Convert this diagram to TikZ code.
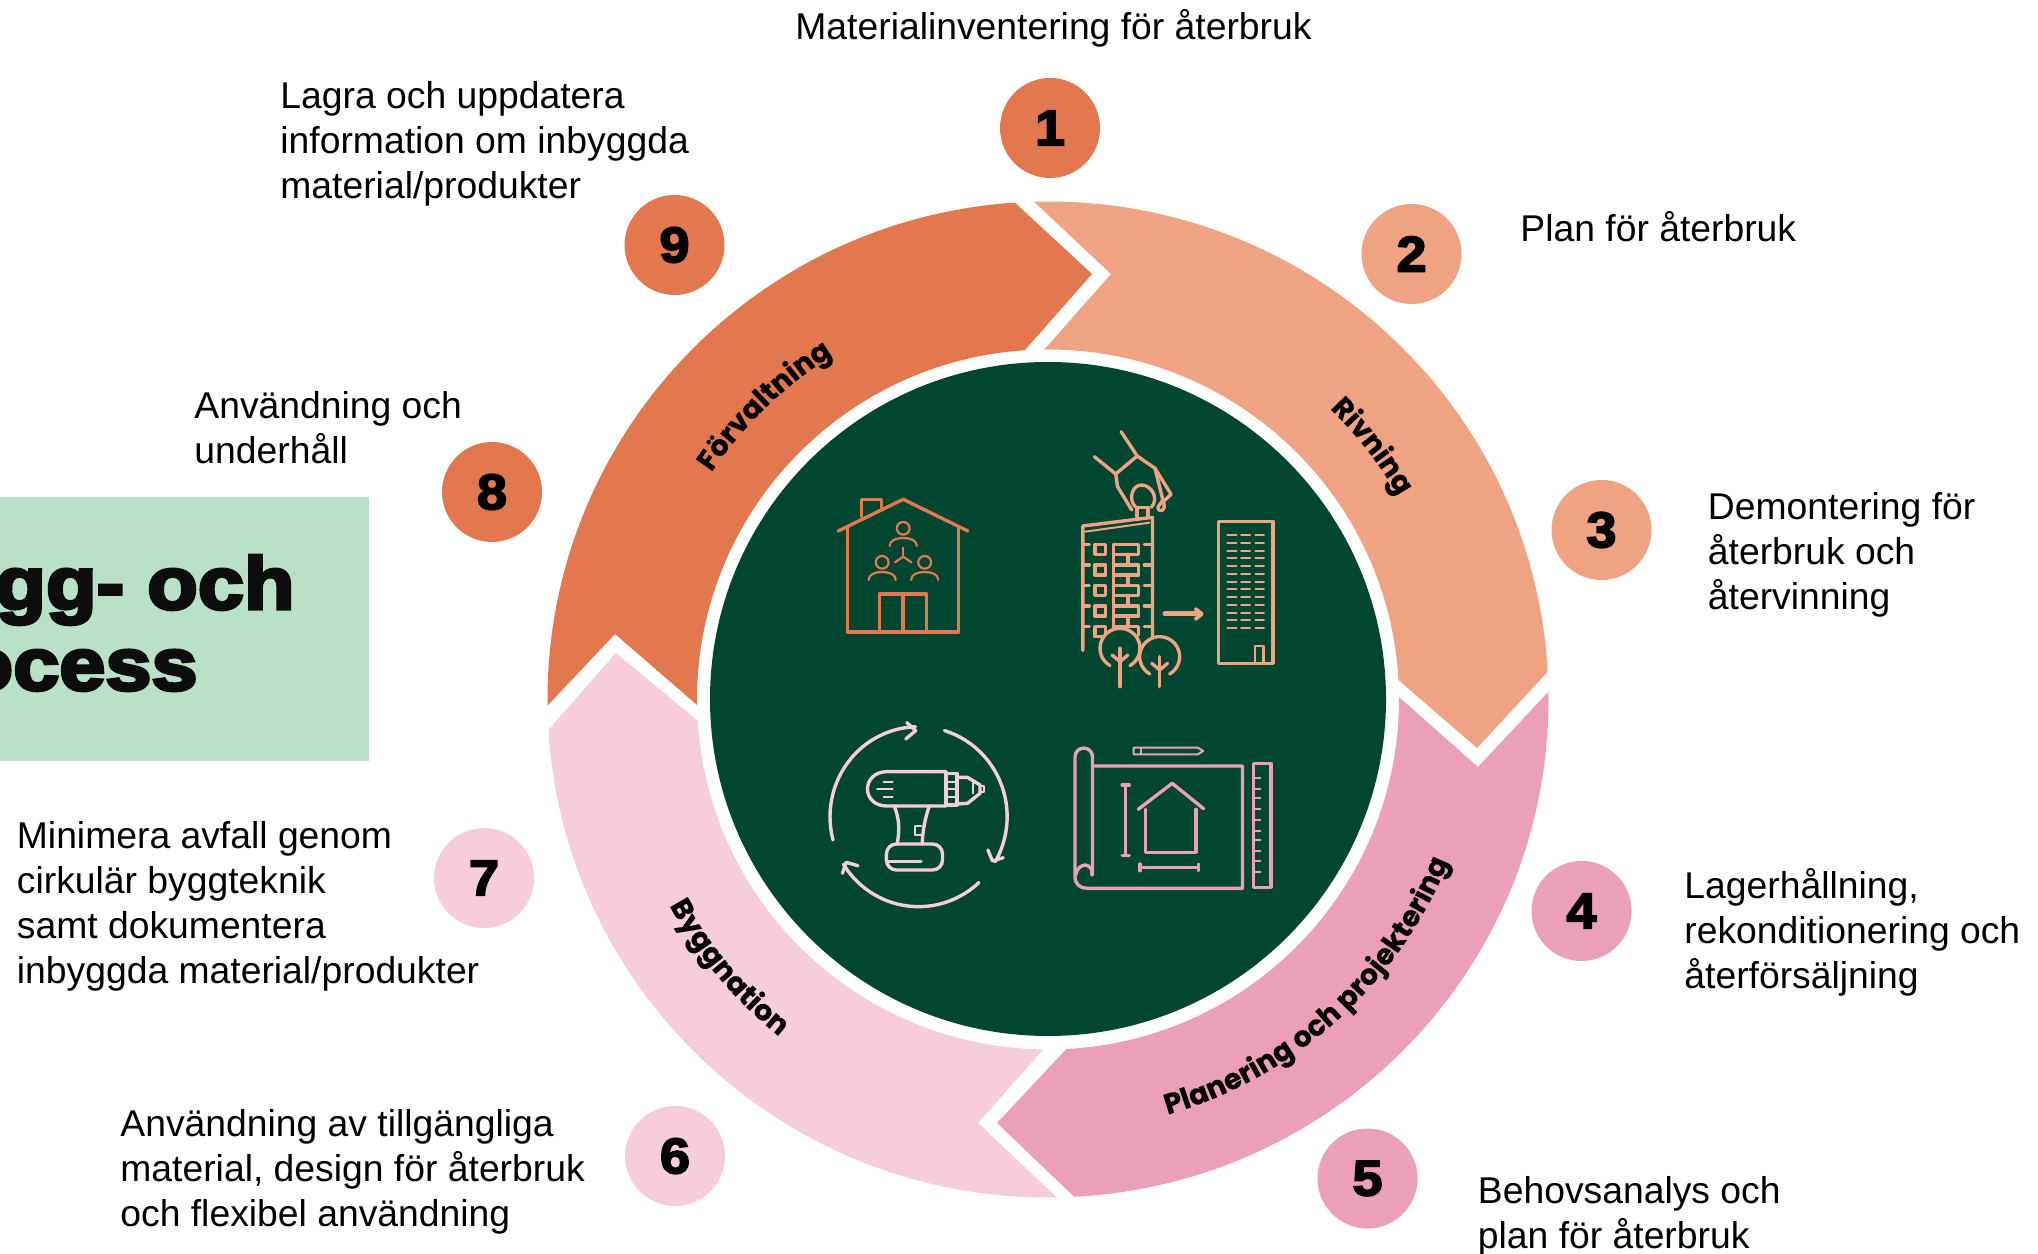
\documentclass[tikz,border=0pt]{standalone}
\usepackage{fontspec}
\usetikzlibrary{decorations.text}
\setmainfont{Liberation Sans}
\newfontfamily\heavy[FakeBold=3.5,FakeStretch=1.08]{Liberation Sans Bold}
\newfontfamily\titlefont[FakeBold=4.5,FakeStretch=1.12]{Liberation Sans Bold}
\newfontfamily\ringfont[FakeBold=0.6]{Poppins Bold}
\definecolor{dgreen}{HTML}{014631}
\definecolor{corange}{HTML}{E3784F}
\definecolor{cpeach}{HTML}{EFA382}
\definecolor{cpink}{HTML}{EC9FB9}
\definecolor{clight}{HTML}{F7CCDD}
\definecolor{cbox}{HTML}{B9E1C8}
\newcommand{\tl}{\rule{0pt}{13pt}}
\newcommand{\ringarrow}[7]{%
  \fill[#1] ([shift={(1048,699.5)}]#2:500.5 and 498) arc[start angle=#2,end angle=#3,x radius=500.5,y radius=498]
    -- #4 -- ([shift={(1048,699.5)}]#3:351 and 350) arc[start angle=#3,end angle=#6,x radius=351,y radius=350]
    -- #7 -- cycle;}
\newcommand{\person}[2]{%
  \draw (#1,#2) ellipse[x radius=18,y radius=19];
  \draw (#1-38,#2+53) .. controls (#1-38,#2+36) and (#1-20,#2+29) .. (#1,#2+29)
     .. controls (#1+20,#2+29) and (#1+38,#2+36) .. (#1+38,#2+53);}
\newcommand{\tree}[3]{%
  \fill[dgreen] (#1,#2) ellipse[x radius=56,y radius=60];
  \draw ([shift={(#1,#2)}]60:56 and 60) arc[start angle=60,end angle=-240,x radius=56,y radius=60];
  \draw (#1,#2)--(#1,#3);
  \draw (#1-22,#2+20)--(#1,#2+40)--(#1+22,#2+20);}
\tikzset{
  flip/.style={yscale=-1,yshift=-626.5pt},
  body/.style={anchor=north west,inner sep=0pt,align=left,font=\fontsize{18.65}{22.5}\selectfont},
  numdot/.style={circle,inner sep=0pt,minimum size=50pt,font=\heavy\fontsize{25}{25}\selectfont,text=black},
  titletext/.style={anchor=base east,inner sep=0pt,font=\titlefont\fontsize{37}{37}\selectfont,text=black!95},
  iconline/.style={line width=1.7pt,line cap=round,line join=round},
  ringtext/.style={decorate,decoration={text along path,text align=center,text={|\ringfont\fontsize{14.3}{14.3}\selectfont|#1}}}
}
\begin{document}
\begin{tikzpicture}[x=.5pt,y=.5pt]
\useasboundingbox (0,0) rectangle (2038,1253);
\fill[white] (0,0) rectangle (2038,1253);
\begin{scope}[flip]
  % ring
  \ringarrow{corange}{179.3}{266.2}{(1092,274)}{}{179.1}{(615,634)}
  \ringarrow{cpeach}{268.4}{356.8}{(1477,748)}{}{269.4}{(1111,274)}
  \ringarrow{cpink}{-0.9}{87}{(997,1123)}{}{-0.4}{(1478,767)}
  \ringarrow{clight}{89}{176.5}{(616,653)}{}{90.8}{(978,1123)}
  \fill[dgreen] (1048,699) ellipse[x radius=338,y radius=337];
  % box
  \fill[cbox] (0,497) rectangle (369,761);
  \node[titletext] (title1) at (295,609) {gg- och};
  \node[titletext] (title2) at (198,690) {ocess};
  % numbered dots
  \node[numdot,fill=corange] (n1) at (1050,128) {1};
  \node[numdot,fill=cpeach] (n2) at (1411.5,254) {2};
  \node[numdot,fill=cpeach] (n3) at (1601.5,530) {3};
  \node[numdot,fill=cpink] (n4) at (1581.5,911) {4};
  \node[numdot,fill=cpink] (n5) at (1367.5,1178.5) {5};
  \node[numdot,fill=clight] (n6) at (675,1156) {6};
  \node[numdot,fill=clight] (n7) at (484,878) {7};
  \node[numdot,fill=corange] (n8) at (492,492) {8};
  \node[numdot,fill=corange] (n9) at (674.5,245) {9};
  % labels
  \node[body] (t1) at (795,9) {\tl Materialinventering för återbruk};
  \node[body] (t2) at (1520,211) {\tl Plan för återbruk};
  \node[body] (t3) at (1707.5,492) {\tl Demontering för\\återbruk och\\återvinning};
  \node[body] (t4) at (1684,868) {\tl Lagerhållning,\\rekonditionering och\\återförsäljning};
  \node[body] (t5) at (1477.5,1176) {\tl Behovsanalys och\\plan för återbruk};
  \node[body] (t6) at (120,1109) {\tl Användning av tillgängliga\\material, design för återbruk\\och flexibel användning};
  \node[body] (t7) at (16.5,821) {\tl Minimera avfall genom\\cirkulär byggteknik\\samt dokumentera\\inbyggda material/produkter};
  \node[body] (t8) at (194,391) {\tl Användning och\\underhåll};
  \node[body] (t9) at (280,81) {\tl Lagra och uppdatera\\information om inbyggda\\material/produkter};
  % top row icons, coordinates read from a crop
  \begin{scope}[shift={(780,400)},xscale=.35714,yscale=.33333,iconline]
    % house
    \begin{scope}[draw=corange]
      \draw (163,393)--(345,298)--(526,393);
      \draw (189,380)--(189,696)--(500,696)--(500,380);
      \draw (228,350)--(228,298)--(284,298)--(284,328);
      \draw (278,696)--(278,582)--(410,582)--(410,696);
      \draw (344,582)--(344,696);
      \begin{scope}[line width=1.1pt]
        \person{345}{385}\person{286}{487}\person{405}{487}
        \draw (345,443)--(345,470);
        \draw (322,487)--(345,470)--(368,487);
      \end{scope}
    \end{scope}
    % building and hand
    \begin{scope}[draw=cpeach]
      \draw (848,752)--(848,378)--(1043,352)--(1043,710);
      \draw[line width=1pt] (855,395)--(1035,368);
      \draw (1000,352)--(1000,322)--(1030,322)--(1030,352);
      \draw (995,320) .. controls (975,300) and (985,255) .. (1012,255)
         .. controls (1040,255) and (1062,295) .. (1040,322);
      \draw (955,95)--(1000,168);
      \draw (880,170)--(940,222)--(1000,168)--(1050,205)--(1095,283)--(1075,303);
      \draw (1050,205)--(1072,300) .. controls (1085,335) and (1060,340) .. (1058,322)--(1072,300);
      \draw (940,222)--(945,260)--(985,330);
      \foreach \yy in {433,495,556,618,680}{
        \draw (848,\yy)--(866,\yy);
        \draw (1020,\yy)--(1043,\yy);
        \draw (882,\yy) rectangle (912,\yy+30);
      }
      \foreach \yy in {433,495,556,618}{
        \draw (934,\yy) rectangle (1004,\yy+30);
        \draw (974,\yy+30)--(974,\yy+62);
      }
      \draw (934,680)--(1004,680)--(1004,705);
      \draw (934,433)--(934,695);
      \tree{952}{745}{860}
      \tree{1063}{770}{860}
      \draw[line width=2.5pt] (1078,642)--(1178,642);
      \draw[line width=2pt] (1165,628)--(1180,642)--(1165,656);
      \draw (1228,364) rectangle (1380,790);
      \draw[line width=1.1pt] (1330,790)--(1330,738)--(1354,738)--(1354,790);
      \foreach \yy in {406,429,452,475,498,522,545,568,592,615,638,661,685}{
        \draw[line width=1.1pt] (1253,\yy)--(1278,\yy) (1291,\yy)--(1316,\yy) (1331,\yy)--(1355,\yy);
      }
    \end{scope}
  \end{scope}
  % bottom row icons
  \begin{scope}[shift={(780,700)},xscale=.35714,yscale=.33333,iconline]
    \begin{scope}[draw=clight]
      \draw ([shift={(388,350)}]165:248 and 270) arc[start angle=165,end angle=268,x radius=248,y radius=270];
      \draw (355,68)--(380,92)--(352,117);
      \draw ([shift={(388,350)}]-73:248 and 270) arc[start angle=-73,end angle=30,x radius=248,y radius=270];
      \draw (582,450)--(595,483)--(625,473);
      \draw ([shift={(388,350)}]47:248 and 270) arc[start angle=47,end angle=148,x radius=248,y radius=270];
      \draw (218,497)--(185,487)--(175,520);
      \draw (465,215)--(300,215) .. controls (265,215) and (245,240) .. (245,267)
         .. controls (245,295) and (265,318) .. (300,318) -- (465,318) -- cycle;
      \draw (465,220) rectangle (495,315);
      \draw[line width=1pt] (470,245)--(490,245) (470,267)--(490,267) (470,290)--(490,290);
      \draw (495,232)--(525,232)--(560,255)--(560,280)--(525,310)--(495,312);
      \draw[line width=1pt] (560,258) rectangle (570,275);
      \draw[line width=1pt] (540,250)--(540,280);
      \draw[line width=1pt] (290,246)--(315,246) (272,268)--(315,268) (290,290)--(315,290);
      \draw (320,318) .. controls (335,360) and (335,390) .. (328,432);
      \draw (418,318) .. controls (405,360) and (400,390) .. (398,432);
      \draw[line width=1pt] (395,378)--(378,378)--(378,405)--(395,405);
      \draw[rounded corners=5pt] (298,432) rectangle (455,510);
      \draw (300,485)--(395,485);
    \end{scope}
    \begin{scope}[draw=cpink]
      \draw (875,525)--(875,172) .. controls (875,135) and (826,135) .. (826,172)
         -- (826,530) .. controls (826,552) and (840,565) .. (860,565) -- (1295,565) -- (1295,198) -- (875,198);
      \draw (828,525) .. controls (830,505) and (845,495) .. (855,495) .. controls (870,497) and (875,510) .. (873,525);
      \draw[line width=1pt] (990,143)--(1170,143)--(1185,153)--(1170,163)--(990,163)--cycle;
      \draw[line width=1pt] (1010,143)--(1010,163);
      \draw (1325,190) rectangle (1375,562);
      \foreach \yy in {235,268,295,327,360,393,420,452,483,517}{
        \draw[line width=1pt] (1325,\yy)--(1345,\yy);
      }
      \draw (968,255)--(968,467) (958,255)--(978,255) (958,467)--(978,467);
      \draw (1008,502)--(1172,502) (1008,492)--(1008,512) (1172,492)--(1172,512);
      \draw (1003,328)--(1098,250)--(1186,326);
      \draw (1024,328)--(1024,457)--(1165,457)--(1165,328);
    \end{scope}
  \end{scope}
\end{scope}
% curved ring labels, in upright coordinates
\path[ringtext={Förvaltning}] ([shift={(1048,553.5)}]159:406) arc[start angle=159,end angle=109,radius=406];
\path[ringtext={Rivning}] ([shift={(1048,553.5)}]63:405) arc[start angle=63,end angle=13,radius=405];
\path[ringtext={Planering och projektering}] ([shift={(1048,553.5)}]-85.5:432) arc[start angle=-85.5,end angle=-10.5,radius=432];
\path[ringtext={Byggnation}] ([shift={(1048,553.5)}]195:431) arc[start angle=195,end angle=245,radius=431];
\end{tikzpicture}
\end{document}
